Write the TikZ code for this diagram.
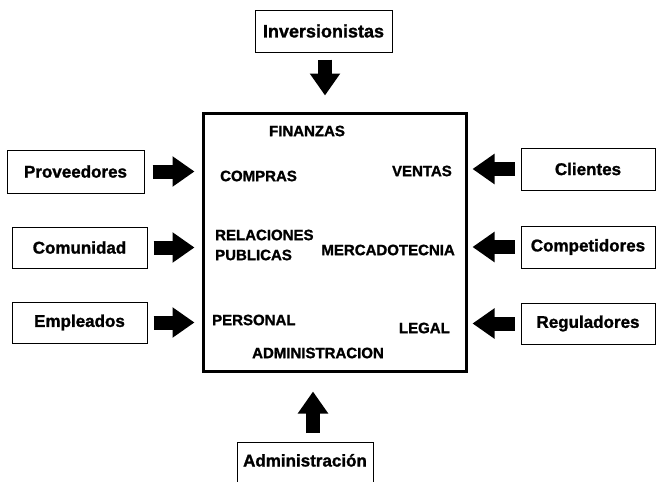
\documentclass[tikz,border=0pt]{standalone}
\usepackage{fontspec}
\setmainfont{Liberation Sans}[BoldFeatures={FakeBold=1.3}]
\usetikzlibrary{arrows.meta}
\tikzset{
  extbox/.style={draw=black, line width=1pt, minimum width=135pt, minimum height=42pt, inner sep=0pt,
    font=\fontsize{17}{20}\selectfont\bfseries},
  mainbox/.style={draw=black, line width=3pt, minimum width=263pt, minimum height=258pt, inner sep=0pt},
  dept/.style={inner sep=0pt, font=\fontsize{15}{20}\selectfont\bfseries},
  blockarr/.style={line width=14pt, -{Triangle[width=29pt,length=22pt]}},
}
\begin{document}
\begin{tikzpicture}[x=1pt,y=-1pt]
\useasboundingbox (0,0) rectangle (657,482);
% main box
\node[mainbox] (main) at (334.5,242) {};
% departments
\node[dept] (fin) at (307,131) {FINANZAS};
\node[dept, anchor=west] (comp) at (220,176) {COMPRAS};
\node[dept, anchor=east] (vent) at (452,171) {VENTAS};
\node[dept, anchor=west, align=left] (rel) at (215,245) {RELACIONES\\PUBLICAS};
\node[dept, anchor=east] (merc) at (455,250) {MERCADOTECNIA};
\node[dept, anchor=west] (pers) at (212,320) {PERSONAL};
\node[dept, anchor=east] (leg) at (450,328) {LEGAL};
\node[dept] (adm) at (318,353) {ADMINISTRACION};
% external boxes
\node[extbox, minimum width=137pt, font=\fontsize{18}{20}\selectfont\bfseries] (inv) at (323.5,31) {Inversionistas};
\node[extbox, minimum width=137pt, minimum height=43pt] (prov) at (75.5,171.5) {Proveedores};
\node[extbox, minimum height=41pt] (comu) at (79.5,247.5) {Comunidad};
\node[extbox, minimum height=41pt] (empl) at (79.5,322.5) {Empleados};
\node[extbox, minimum width=134pt] (cli) at (588,169) {Clientes};
\node[extbox, minimum width=134pt] (compe) at (588,247) {Competidores};
\node[extbox, minimum width=134pt, minimum height=41pt] (reg) at (588,323.5) {Reguladores};
\node[extbox, anchor=north, minimum width=136pt, minimum height=0pt, inner ysep=10pt,
      text height=14pt, text depth=40pt] (admin) at (305,442) {Administración};
% arrows
\draw[blockarr, shorten <=7pt, shorten >=16pt] ([xshift=1.5pt]inv.south) -- ([xshift=1.5pt]inv.south |- main.north);
\draw[blockarr, shorten <=8pt, shorten >=7pt] (prov.east) -- (prov.east -| main.west);
\draw[blockarr, shorten <=6pt, shorten >=7pt] (comu.east) -- (comu.east -| main.west);
\draw[blockarr, shorten <=6pt, shorten >=7pt] (empl.east) -- (empl.east -| main.west);
\draw[blockarr, shorten <=6pt, shorten >=5pt] (cli.west) -- (cli.west -| main.east);
\draw[blockarr, shorten <=6pt, shorten >=5pt] (compe.west) -- (compe.west -| main.east);
\draw[blockarr, shorten <=6pt, shorten >=5pt] (reg.west) -- (reg.west -| main.east);
\draw[blockarr, shorten <=9pt, shorten >=19pt] ([xshift=8pt]admin.north) -- ([xshift=8pt]admin.north |- main.south);
\end{tikzpicture}
\end{document}
